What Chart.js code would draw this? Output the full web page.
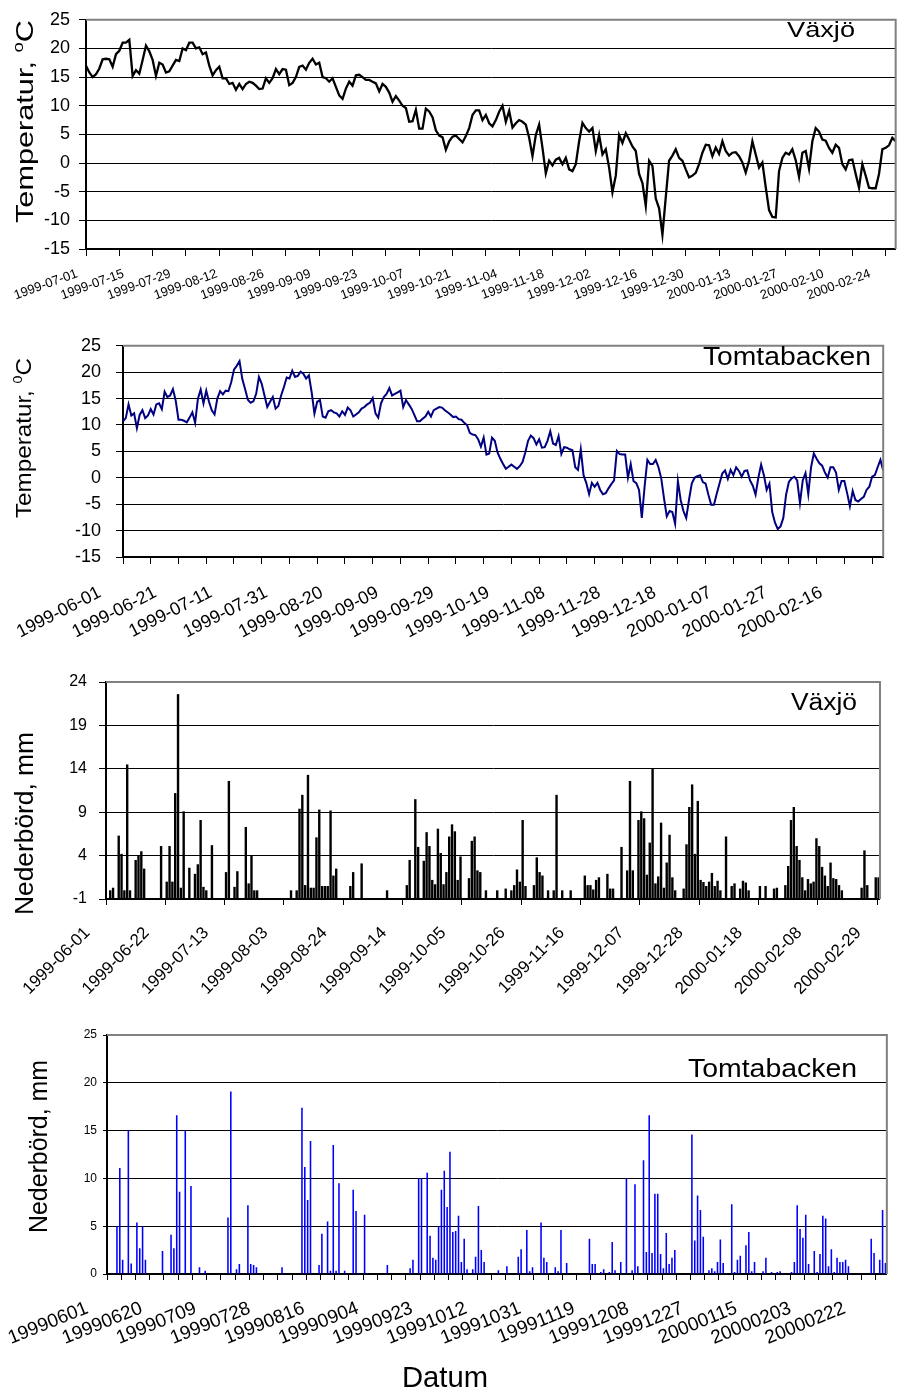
<!DOCTYPE html>
<html><head><meta charset="utf-8">
<script src="https://cdn.jsdelivr.net/npm/chart.js@4.4.0/dist/chart.umd.min.js"></script>
<style>
html,body{margin:0;padding:0;background:#fff;}
#wrap{position:relative;width:911px;height:1391px;overflow:hidden;}
canvas{position:absolute;left:0;}
</style></head><body>
<div id="wrap">
<canvas id="c1" width="911" height="320" style="top:0px"></canvas>
<canvas id="c2" width="911" height="335" style="top:320px"></canvas>
<canvas id="c3" width="911" height="355" style="top:655px"></canvas>
<canvas id="c4" width="911" height="381" style="top:1010px"></canvas>
</div>
<script>
const FONT = '"Liberation Sans", Arial, sans-serif';

// ---------- DATA ----------
// Panel 1: Växjö daily temperature (°C), from 1999-07-01
const vaxjoTempStart = '1999-07-01';
const vaxjoTemp = [
 17.0,15.8,15.0,15.5,16.5,18.1,18.2,18.1,16.8,19.0,
 19.6,21.0,21.0,21.5,15.2,16.2,15.6,18.0,20.5,19.5,
 18.0,15.2,17.5,17.2,15.8,16.0,17.0,18.0,17.8,20.0,
 19.7,21.0,21.0,20.0,20.2,19.0,19.3,17.0,15.3,16.2,
 16.8,14.8,14.8,13.8,14.0,12.8,13.8,12.9,13.8,14.2,
 14.0,13.5,12.9,13.0,14.8,14.0,14.8,16.4,15.5,16.4,
 16.3,13.6,14.0,15.0,16.8,17.0,16.3,17.5,18.2,17.2,
 17.5,15.0,14.8,14.2,14.8,13.3,11.8,11.2,13.0,14.2,
 13.5,15.3,15.4,15.0,14.5,14.5,14.2,13.9,12.5,13.8,
 13.3,12.3,10.7,11.7,10.9,10.0,9.6,7.2,7.3,9.3,
 6.0,6.0,9.5,9.0,8.0,5.7,4.8,4.5,2.3,3.8,
 4.6,4.8,4.2,3.6,4.7,6.1,8.4,9.2,9.2,7.5,
 8.4,6.95,6.4,7.5,8.95,10.0,7.2,9.1,6.2,6.95,
 7.5,7.2,6.7,4.4,1.2,4.9,6.7,2.65,-1.8,0.4,
 -0.4,0.6,0.9,-0.2,0.9,-1.1,-1.4,-0.2,3.8,7.0,
 6.1,5.5,6.1,2.1,4.9,1.5,2.4,-0.8,-5.1,-2.2,
 4.9,3.5,5.2,4.1,2.9,2.1,-1.9,-3.5,-7.5,0.4,
 -0.5,-6.2,-7.9,-12.5,-6.0,0.4,1.3,2.4,0.9,0.4,
 -1.1,-2.5,-2.2,-1.7,-0.2,1.8,3.2,3.1,1.2,2.7,
 1.6,3.8,2.1,1.3,1.8,1.9,1.2,0.1,-1.65,0.4,
 3.8,1.5,-0.8,0.1,-4.2,-8.2,-9.4,-9.5,-1.4,0.9,
 1.8,1.5,2.4,0.5,-2.4,1.8,2.1,-1.0,3.8,6.1,
 5.5,4.1,3.9,2.65,1.8,3.2,2.65,-0.2,-1.1,0.5,
 0.6,-1.9,-4.3,-0.2,-2.2,-4.3,-4.4,-4.4,-1.9,2.4,
 2.65,3.1,4.4,3.8
];
const vaxjoTempXLabels = ['1999-07-01','1999-07-15','1999-07-29','1999-08-12','1999-08-26','1999-09-09','1999-09-23','1999-10-07','1999-10-21','1999-11-04','1999-11-18','1999-12-02','1999-12-16','1999-12-30','2000-01-13','2000-01-27','2000-02-10','2000-02-24'];
const tempYTicks = [-15,-10,-5,0,5,10,15,20,25];

// Panel 2: Tomtabacken daily temperature (°C), from 1999-06-01
const tomtaTempStart = '1999-06-01';
const tomtaTemp = [
 10.7,11.3,13.9,11.8,12.2,9.4,11.9,12.8,11.3,11.8,
 13.0,12.0,13.9,14.1,13.0,16.3,15.3,15.6,16.8,14.6,
 11.0,11.0,10.8,10.5,11.4,12.4,10.4,15.0,16.7,14.1,
 16.5,14.4,12.8,12.0,15.0,16.4,15.8,16.5,16.4,18.1,
 20.5,21.2,22.1,18.7,16.8,14.8,14.2,14.5,15.9,19.1,
 17.8,15.6,13.4,14.4,15.3,13.1,13.6,15.6,17.2,19.0,
 18.8,20.3,19.1,19.3,20.1,19.7,18.8,19.4,16.2,12.2,
 14.4,14.7,11.6,11.4,12.6,12.8,12.4,12.2,11.6,12.6,
 11.9,13.3,12.8,11.6,12.0,12.4,13.1,13.4,13.9,14.2,
 15.1,12.2,11.4,14.1,15.3,15.9,17.0,15.6,15.9,16.2,
 16.5,13.4,14.7,13.9,13.1,11.9,10.7,10.7,11.2,11.6,
 12.5,11.6,12.8,13.1,13.4,13.3,12.8,12.4,12.0,11.5,
 11.6,11.1,11.0,10.4,10.0,8.5,8.2,8.1,7.3,5.9,
 7.6,4.4,4.6,7.6,7.0,4.8,3.6,2.6,1.7,2.1,
 2.5,2.1,1.7,2.2,3.0,4.8,7.0,8.0,7.5,6.3,
 7.3,5.7,5.8,7.0,8.8,6.5,6.2,7.9,4.5,5.8,
 5.7,5.4,5.2,2.0,1.5,5.4,0.5,-1.0,-3.1,-0.96,
 -1.7,-0.96,-2.3,-3.1,-2.9,-2.0,-1.2,-0.5,5.1,4.5,
 4.4,4.4,0.0,2.6,-0.6,-1.0,-2.3,-7.6,-1.7,3.4,
 2.6,2.6,3.4,2.0,-0.1,-3.9,-7.3,-6.3,-6.5,-8.7,
 -0.6,-4.2,-6.3,-7.6,-4.2,-1.1,0.0,0.3,0.5,-0.8,
 -1.1,-3.2,-5.1,-5.1,-3.0,-1.1,0.8,1.4,-0.2,1.5,
 0.5,2.0,1.3,0.2,1.3,1.4,-0.5,-1.5,-3.2,0.0,
 2.5,0.5,-2.3,-1.1,-6.5,-8.5,-9.7,-9.2,-7.6,-3.2,
 -0.8,-0.1,0.2,-0.5,-4.8,-0.5,0.9,-3.1,2.0,4.6,
 3.6,2.75,2.3,1.0,0.05,2.0,2.0,1.0,-2.3,-0.6,
 -0.6,-2.9,-5.4,-2.5,-4.2,-4.5,-4.0,-3.6,-2.3,-1.7,
 0.2,0.5,2.0,3.4,1.4
];
const tomtaTempXLabels = ['1999-06-01','1999-06-21','1999-07-11','1999-07-31','1999-08-20','1999-09-09','1999-09-29','1999-10-19','1999-11-08','1999-11-28','1999-12-18','2000-01-07','2000-01-27','2000-02-16'];

// Panel 3: Växjö daily precipitation (mm), from 1999-06-01 (null = no value)
const vaxjoPrecStart = '1999-06-01';
const vaxjoPrec = [
 null,0.0,0.3,null,6.3,4.2,0,14.5,0,null,
 3.5,4.0,4.5,2.5,null,null,null,null,null,5.1,
 null,1.0,5.1,1.0,11.2,22.6,0.3,9.1,null,2.6,
 null,1.9,3.0,8.1,0.4,0,null,5.2,null,null,
 null,null,2.1,12.6,null,0.4,2.2,null,null,7.3,
 0.8,4.0,0,0,null,null,null,null,null,null,
 null,null,null,null,null,0,null,0,9.4,11.0,
 0.6,13.3,0.3,0.3,6.1,9.3,0.5,0.5,0.5,9.2,
 1.7,2.5,null,null,null,null,0.5,2.1,null,null,
 3.1,null,null,null,null,null,null,null,null,0,
 null,null,null,null,null,null,0.6,3.5,null,10.5,
 5.0,null,3.4,6.7,5.1,1.2,0.7,7.1,4.3,0.7,
 2.1,6.2,7.6,6.8,1.2,3.9,null,null,1.4,5.7,
 6.2,2.3,2.1,null,0,null,null,null,0,null,
 null,0.2,null,0,0.6,2.4,1.0,8.1,0.5,null,
 null,0.6,3.8,2.1,1.7,null,0,null,0,11.0,
 null,0,null,null,0,null,null,null,null,1.7,
 0.6,0.6,0.1,1.2,1.5,null,null,1.9,0.2,0.2,
 null,null,5.0,null,2.3,12.6,2.3,null,8.1,9.1,
 8.3,1.8,5.5,14.0,0.8,1.6,7.8,0.3,3.2,6.4,
 1.5,0,null,null,0.2,5.3,9.6,12.2,4.2,10.3,
 1.2,0.96,0.5,1.0,2.0,0.5,1.1,0,null,6.2,
 null,0.5,0.8,null,0.2,1.1,0.9,0,null,null,
 null,0.5,null,0.5,null,null,0.2,0.3,null,null,
 0.6,2.8,8.1,9.6,5.1,3.5,1.5,0,1.3,0.8,
 1.0,6.0,5.1,2.7,1.7,0.5,3.2,1.4,1.3,0.6,
 0,null,null,null,null,null,null,0.3,4.6,0.6,
 null,null,1.5,1.5
];
const vaxjoPrecXLabels = ['1999-06-01','1999-06-22','1999-07-13','1999-08-03','1999-08-24','1999-09-14','1999-10-05','1999-10-26','1999-11-16','1999-12-07','1999-12-28','2000-01-18','2000-02-08','2000-02-29'];
const vaxjoPrecYTicks = [-1,4,9,14,19,24];

// Panel 4: Tomtabacken daily precipitation (mm), from 19990601 (null = no value)
const tomtaPrecStart = '1999-06-01';
const tomtaPrec = [
 null,null,0.1,5.0,11.1,1.5,null,15.0,1.1,null,
 5.4,2.7,5.0,1.5,null,null,null,null,null,2.4,
 null,null,4.1,2.7,16.6,8.6,null,15.0,null,9.2,
 null,null,0.7,0.1,0.35,null,null,null,null,null,
 null,null,5.9,19.1,null,0.5,1.05,null,null,7.2,
 1.05,0.95,0.7,null,null,null,null,null,null,null,
 null,0.7,0.1,null,null,null,null,null,17.4,11.2,
 7.75,13.9,null,null,0.95,4.2,null,5.5,0.35,13.5,
 0.35,9.5,null,0.35,null,null,8.8,6.6,0.1,null,
 6.2,0.1,null,null,null,null,null,null,0.95,null,
 null,null,null,null,null,null,0.6,1.5,null,10.0,
 10.0,null,10.6,4.0,1.7,1.5,5.0,8.8,10.8,7.0,
 12.8,4.4,4.5,6.1,1.25,3.7,0.5,0.1,0.5,1.8,
 7.1,2.5,1.25,null,null,null,null,0.4,null,0.1,
 0.8,null,null,null,1.8,2.6,0.1,4.6,0.3,0.7,
 null,null,5.4,1.7,1.25,null,null,0.7,0.3,4.6,
 null,1.15,null,null,null,null,null,null,null,3.7,
 1.05,1.05,null,0.2,0.5,null,0.2,3.35,0.4,null,
 1.25,null,10.0,null,0.4,9.4,0.8,null,11.9,2.3,
 16.6,2.2,8.4,8.4,2.1,0.6,4.3,1.05,1.7,2.5,
 null,null,null,null,null,14.6,3.5,8.2,6.7,3.9,
 null,0.4,0.6,0.3,1.25,3.6,1.15,null,null,7.3,
 0.2,1.5,1.9,null,3.0,4.4,0.3,1.25,null,null,
 0.3,1.7,null,0.2,null,0.2,0.3,0.1,null,null,
 0.2,1.25,7.2,4.7,3.8,6.2,1.05,null,2.4,0.2,
 2.1,6.1,5.8,0.8,2.6,0.2,1.7,1.25,1.25,1.5,
 0.8,0.1,null,null,null,null,null,null,3.7,2.2,
 null,1.5,6.7,1.15
];
const tomtaPrecXLabels = ['19990601','19990620','19990709','19990728','19990816','19990904','19990923','19991012','19991031','19991119','19991208','19991227','20000115','20000203','20000222'];
const tomtaPrecYTicks = [0,5,10,15,20,25];

// ---------- HELPERS ----------
function dailyDates(start, n, compact) {
  const p = start.split('-').map(Number);
  const t0 = Date.UTC(p[0], p[1]-1, p[2]);
  const out = [];
  for (let i = 0; i < n; i++) {
    const s = new Date(t0 + i*86400000).toISOString().slice(0,10);
    out.push(compact ? s.replace(/-/g,'') : s);
  }
  return out;
}

// draws a text (possibly with a superscript part); stretched horizontally to a target width
function drawText(ctx, item) {
  ctx.save();
  ctx.translate(item.x, item.y);
  if (item.rot) ctx.rotate(item.rot);
  ctx.fillStyle = '#000';
  ctx.textBaseline = 'alphabetic';
  ctx.textAlign = 'left';
  let natural = 0;
  item.segs.forEach(s => { ctx.font = s.size + 'px ' + FONT; s.w = ctx.measureText(s.t).width; natural += s.w; });
  const sx = item.width ? item.width / natural : 1;
  ctx.scale(sx, 1);
  let x = 0;
  item.segs.forEach(s => { ctx.font = s.size + 'px ' + FONT; ctx.fillText(s.t, x, -(s.raise || 0)); x += s.w; });
  ctx.restore();
}

const decoConf = {};
const decoPlugin = {
  id: 'deco',
  afterDraw(chart) {
    const conf = decoConf[chart.canvas.id];
    if (!conf) return;
    const ctx = chart.ctx, a = chart.chartArea;
    ctx.save();
    ctx.strokeStyle = '#808080';
    ctx.lineWidth = 2;
    ctx.beginPath();
    ctx.moveTo(a.left, a.top); ctx.lineTo(a.right, a.top); ctx.lineTo(a.right, a.bottom);
    ctx.stroke();
    ctx.restore();
    conf.texts.forEach(t => drawText(ctx, t));
  }
};

function makeChart(id, c) {
  const tr = 'rgba(0,0,0,0)';
  return new Chart(document.getElementById(id), {
    type: c.type,
    data: { labels: c.labels, datasets: [c.dataset] },
    options: {
      responsive: false, animation: false, devicePixelRatio: 1,
      layout: { padding: { top: c.plotTop, right: 911 - c.plotRight, left: 0, bottom: 0 } },
      plugins: { legend: { display: false }, tooltip: { enabled: false } },
      scales: {
        x: {
          type: 'category', offset: c.offset,
          grid: { offset: c.offset, drawOnChartArea: false, drawTicks: true, tickLength: c.xTickLen, lineWidth: 1,
                  color: g => (g.index % c.tickEvery === 0 ? '#000' : tr) },
          border: { display: true, color: '#000', width: 2 },
          ticks: { autoSkip: false, minRotation: c.rot, maxRotation: c.rot, padding: c.xPad, labelOffset: c.labelOffset,
                   font: { family: FONT, size: c.xFont }, color: '#000',
                   callback: function(v) { const l = this.getLabelForValue(v); return c.shown.indexOf(l) >= 0 ? l : ''; } },
          afterFit: s => { s.height = c.canvasH - c.plotBottom; }
        },
        y: {
          min: c.yTicks[0], max: c.yTicks[c.yTicks.length - 1],
          afterBuildTicks: s => { s.ticks = c.yTicks.map(v => ({ value: v })); },
          grid: { color: g => (g.tick && g.tick.value === c.yTicks[c.yTicks.length - 1] ? tr : '#000'),
                  tickColor: '#000', tickLength: c.yTickLen, lineWidth: 1 },
          border: { display: true, color: '#000', width: 2 },
          ticks: { font: { family: FONT, size: c.yFont }, color: '#000', padding: c.yPad },
          afterFit: s => { s.width = c.plotLeft; }
        }
      }
    },
    plugins: [decoPlugin]
  });
}

// ---------- PANEL 1 ----------
decoConf.c1 = { texts: [
  { segs: [{ t: 'Växjö', size: 22 }], x: 787, y: 37, width: 68 },
  { segs: [{ t: 'Temperatur, ', size: 23 }, { t: 'o', size: 14, raise: 10 }, { t: 'C', size: 23 }], x: 33, y: 223, rot: -Math.PI/2, width: 203 }
]};
makeChart('c1', {
  type: 'line', labels: dailyDates(vaxjoTempStart, vaxjoTemp.length, false), shown: vaxjoTempXLabels,
  dataset: { data: vaxjoTemp, borderColor: '#000', borderWidth: 2.3, pointRadius: 0, tension: 0, fill: false },
  canvasH: 320, plotTop: 17, plotBottom: 249, plotLeft: 86, plotRight: 909,
  offset: false, tickEvery: 10, xTickLen: 7, rot: 20, xPad: 10, labelOffset: -9, xFont: 13,
  yTicks: tempYTicks, yTickLen: 7, yFont: 18, yPad: 9
});

// ---------- PANEL 2 ----------
decoConf.c2 = { texts: [
  { segs: [{ t: 'Tomtabacken', size: 25 }], x: 703, y: 45, width: 168 },
  { segs: [{ t: 'Temperatur, ', size: 22 }, { t: '0', size: 13, raise: 9 }, { t: 'C', size: 22 }], x: 31, y: 198, rot: -Math.PI/2, width: 160 }
]};
makeChart('c2', {
  type: 'line', labels: dailyDates(tomtaTempStart, tomtaTemp.length, false), shown: tomtaTempXLabels,
  dataset: { data: tomtaTemp, borderColor: '#000080', borderWidth: 2, pointRadius: 0, tension: 0, fill: false },
  canvasH: 335, plotTop: 21, plotBottom: 237, plotLeft: 123, plotRight: 906,
  offset: false, tickEvery: 10, xTickLen: 7, rot: 27, xPad: 18, labelOffset: -23, xFont: 18,
  yTicks: tempYTicks, yTickLen: 7, yFont: 18, yPad: 15
});

// ---------- PANEL 3 ----------
decoConf.c3 = { texts: [
  { segs: [{ t: 'Växjö', size: 23 }], x: 791, y: 55, width: 66 },
  { segs: [{ t: 'Nederbörd, mm', size: 25 }], x: 33, y: 260, rot: -Math.PI/2, width: 183 }
]};
makeChart('c3', {
  type: 'bar', labels: dailyDates(vaxjoPrecStart, vaxjoPrec.length, false), shown: vaxjoPrecXLabels,
  dataset: { data: vaxjoPrec, backgroundColor: '#000', borderWidth: 0, barPercentage: 1, categoryPercentage: 0.85, base: -1 },
  canvasH: 355, plotTop: 27, plotBottom: 244, plotLeft: 106, plotRight: 908,
  offset: true, tickEvery: 21, xTickLen: 6, rot: 45, xPad: 18, labelOffset: -20, xFont: 17,
  yTicks: vaxjoPrecYTicks, yTickLen: 7, yFont: 16, yPad: 12
});

// ---------- PANEL 4 ----------
decoConf.c4 = { texts: [
  { segs: [{ t: 'Tomtabacken', size: 25 }], x: 688, y: 67, width: 169 },
  { segs: [{ t: 'Nederbörd, mm', size: 25 }], x: 47, y: 223, rot: -Math.PI/2, width: 173 },
  { segs: [{ t: 'Datum', size: 29 }], x: 402, y: 377, width: 86 }
]};
makeChart('c4', {
  type: 'bar', labels: dailyDates(tomtaPrecStart, tomtaPrec.length, true), shown: tomtaPrecXLabels,
  dataset: { data: tomtaPrec, backgroundColor: '#0000FF', borderWidth: 0, barPercentage: 1, categoryPercentage: 0.55 },
  canvasH: 381, plotTop: 25, plotBottom: 264, plotLeft: 107, plotRight: 896,
  offset: true, tickEvery: 5, xTickLen: 6, rot: 22, xPad: 17, labelOffset: -21, xFont: 19,
  yTicks: tomtaPrecYTicks, yTickLen: 4, yFont: 12, yPad: 6
});
</script>
</body></html>
